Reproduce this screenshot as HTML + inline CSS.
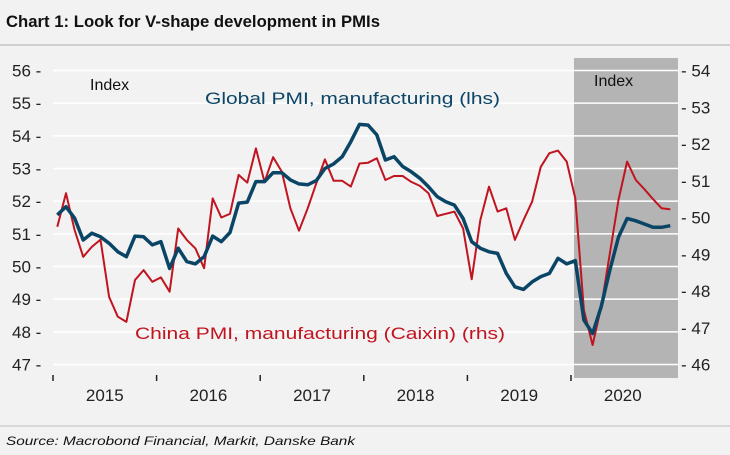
<!DOCTYPE html>
<html><head><meta charset="utf-8">
<style>
body{margin:0;background:#f2f2f2;}
svg{display:block;font-family:"Liberation Sans",sans-serif;}
</style></head>
<body>
<svg id="chart" width="730" height="455" viewBox="0 0 730 455">
<rect x="0" y="0" width="730" height="455" fill="#f2f2f2"/>
<text x="6" y="27" font-size="17" font-weight="bold" fill="#111" textLength="374" lengthAdjust="spacingAndGlyphs">Chart 1: Look for V-shape development in PMIs</text>
<line x1="0" y1="45" x2="730" y2="45" stroke="#d0d0d0" stroke-width="2"/>
<rect x="574" y="58" width="104" height="320" fill="#b4b4b4"/>
<g id="grid"></g>
<g id="axes"></g>
<g id="series"></g>
<text x="90" y="90" font-size="16" fill="#111">Index</text>
<text x="594" y="86" font-size="16" fill="#111">Index</text>
<text x="205" y="104" font-size="17" fill="#0b4566" textLength="295" lengthAdjust="spacingAndGlyphs">Global PMI, manufacturing (lhs)</text>
<text x="135" y="339" font-size="17" fill="#c0141f" textLength="370" lengthAdjust="spacingAndGlyphs">China PMI, manufacturing (Caixin) (rhs)</text>
<line x1="0" y1="426" x2="730" y2="426" stroke="#d0d0d0" stroke-width="1.5"/>
<text x="6" y="445" font-size="12" font-style="italic" fill="#111" textLength="349" lengthAdjust="spacingAndGlyphs">Source: Macrobond Financial, Markit, Danske Bank</text>
</svg>
<script>
const years = ["2015","2016","2017","2018","2019","2020"];
const leftTicks = [47,48,49,50,51,52,53,54,55,56];
const rightTicks = [46,47,48,49,50,51,52,53,54];
const globalPmi = [51.58,51.83,51.48,50.81,51.02,50.91,50.71,50.45,50.3,50.93,50.91,50.66,
50.76,49.94,50.56,50.15,50.08,50.3,50.93,50.76,51.04,51.94,51.97,52.6,
52.6,52.87,52.87,52.65,52.53,52.5,52.63,53.0,53.14,53.36,53.82,54.35,
54.33,54.03,53.26,53.36,53.06,52.9,52.7,52.44,52.14,51.98,51.88,51.47,
50.76,50.56,50.45,50.4,49.79,49.38,49.3,49.53,49.69,49.79,50.25,50.08,
50.18,48.36,47.95,48.77,49.9,50.9,51.47,51.4,51.3,51.2,51.2,51.25];
const chinaPmi = [49.75,50.66,49.66,48.93,49.2,49.4,47.84,47.3,47.16,48.3,48.57,48.25,
48.37,47.98,49.7,49.39,49.16,48.62,50.52,50.0,50.1,51.16,50.95,51.88,
50.97,51.64,51.25,50.25,49.64,50.25,50.93,51.58,51.0,51.0,50.84,51.47,
51.49,51.61,51.02,51.13,51.13,50.97,50.86,50.66,50.04,50.1,50.16,49.7,
48.32,49.93,50.84,50.16,50.25,49.39,49.93,50.43,51.38,51.75,51.82,51.52,
50.52,47.48,46.53,47.57,49.03,50.48,51.52,51.02,50.77,50.5,50.25,50.22];

const NS="http://www.w3.org/2000/svg";
const X0=53, YEARW=103.6;
const xMonth=i=>X0+(i+0.5)*YEARW/12;
const yL=v=>70.5+(56-v)*(294/9);
const yR=v=>70.5+(54-v)*(294/8);
function mk(tag,attrs,parent){const e=document.createElementNS(NS,tag);for(const k in attrs)e.setAttribute(k,attrs[k]);parent.appendChild(e);return e;}
const grid=document.getElementById('grid'),axes=document.getElementById('axes'),series=document.getElementById('series');

leftTicks.forEach(v=>{
  const y=yL(v);
  const g=mk('line',{x1:X0,x2:678,y1:y,y2:y,stroke:'#ffffff','stroke-width':1.5},grid);
  
  
  const t=mk('text',{x:12,y:y+6,'font-size':17,fill:'#222'},axes);
  t.textContent=v+" -";
  
  
});
rightTicks.forEach(v=>{
  const y=yR(v);
  const t=mk('text',{x:681,y:y+6,'font-size':17,fill:'#222'},axes);
  t.textContent="- "+v;
  
  
});
years.forEach((yr,i)=>{
  const x=X0+i*YEARW;
  const tk=mk('line',{x1:x,x2:x,y1:375,y2:381,stroke:'#222','stroke-width':1.5},axes);
  
  
  const t=mk('text',{x:x+YEARW/2,y:401,'font-size':17,fill:'#222','text-anchor':'middle'},axes);
  t.textContent=yr;
  
  
});
const pc=chinaPmi.map((v,i)=>xMonth(i).toFixed(1)+","+yR(v).toFixed(1)).join(" ");
const lc=mk('polyline',{points:pc,fill:'none',stroke:'#c0141f','stroke-width':2,'stroke-linejoin':'round'},series);


const pg=globalPmi.map((v,i)=>xMonth(i).toFixed(1)+","+yL(v).toFixed(1)).join(" ");
const lg=mk('polyline',{points:pg,fill:'none',stroke:'#0b4566','stroke-width':3.5,'stroke-linejoin':'round'},series);


</script>
</body></html>
